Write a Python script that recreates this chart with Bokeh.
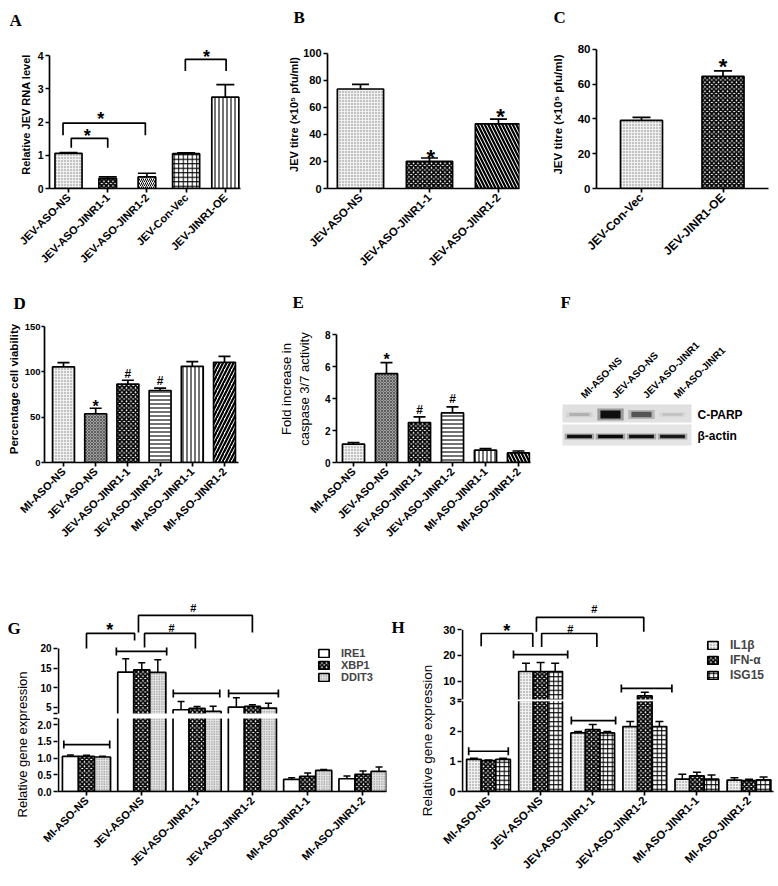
import math
from bokeh.plotting import figure
from bokeh.models import Range1d, FixedTicker, Legend, LegendItem
from bokeh.layouts import row, column
from bokeh.core.properties import value
from bokeh.embed import file_html
from bokeh.resources import INLINE

# ======================= DATA =======================
a_cats = ["JEV-ASO-NS", "JEV-ASO-JINR1-1", "JEV-ASO-JINR1-2", "JEV-Con-Vec", "JEV-JINR1-OE"]
a_vals = [1.06, 0.30, 0.35, 1.05, 2.75]
a_errs = [0.02, 0.05, 0.11, 0.02, 0.38]

b_cats = ["JEV-ASO-NS", "JEV-ASO-JINR1-1", "JEV-ASO-JINR1-2"]
b_vals = [73.7, 20.1, 47.9]
b_errs = [3.4, 2.5, 3.5]

c_cats = ["JEV-Con-Vec", "JEV-JINR1-OE"]
c_vals = [39.1, 64.4]
c_errs = [1.8, 3.1]

d_cats = ["MI-ASO-NS", "JEV-ASO-NS", "JEV-ASO-JINR1-1", "JEV-ASO-JINR1-2", "MI-ASO-JINR1-1", "MI-ASO-JINR1-2"]
d_vals = [105.5, 53.8, 86.6, 79.5, 106.2, 110.6]
d_errs = [4.8, 6.1, 4.2, 2.7, 5.1, 6.5]

e_cats = ["MI-ASO-NS", "JEV-ASO-NS", "JEV-ASO-JINR1-1", "JEV-ASO-JINR1-2", "MI-ASO-JINR1-1", "MI-ASO-JINR1-2"]
e_vals = [1.15, 5.56, 2.50, 3.10, 0.77, 0.60]
e_errs = [0.10, 0.69, 0.35, 0.38, 0.10, 0.12]

f_lanes = ["MI-ASO-NS", "JEV-ASO-NS", "JEV-ASO-JINR1", "MI-ASO-JINR1"]
f_cparp = [0.18, 1.0, 0.6, 0.12]
f_actin = [0.9, 0.95, 0.9, 0.85]

g_cats = ["MI-ASO-NS", "JEV-ASO-NS", "JEV-ASO-JINR1-1", "JEV-ASO-JINR1-2", "MI-ASO-JINR1-1", "MI-ASO-JINR1-2"]
g_series = ["IRE1", "XBP1", "DDIT3"]
g_ire1 = [1.05, 13.97, 4.41, 5.08, 0.36, 0.38]
g_ire1_err = [0.04, 3.41, 2.11, 2.38, 0.05, 0.08]
g_xbp1 = [1.05, 14.58, 4.75, 5.25, 0.45, 0.51]
g_xbp1_err = [0.03, 1.78, 0.50, 0.43, 0.10, 0.10]
g_ddit3 = [1.03, 13.90, 3.98, 4.83, 0.63, 0.60]
g_ddit3_err = [0.02, 3.20, 1.35, 1.27, 0.03, 0.13]
g_lo_ticks = [0, 0.5, 1.0, 1.5, 2.0]
g_lo_labels = ["0.0", "0.5", "1.0", "1.5", "2.0"]
g_up_ticks = [5, 10, 15, 20]

h_cats = ["MI-ASO-NS", "JEV-ASO-NS", "JEV-ASO-JINR1-1", "JEV-ASO-JINR1-2", "MI-ASO-JINR1-1", "MI-ASO-JINR1-2"]
h_series = ["IL1\u03b2", "IFN-\u03b1", "ISG15"]
h_il1b = [1.07, 13.7, 1.95, 2.16, 0.41, 0.38]
h_il1b_err = [0.04, 3.2, 0.05, 0.17, 0.16, 0.08]
h_ifna = [1.03, 13.7, 2.06, 4.25, 0.52, 0.36]
h_ifna_err = [0.02, 3.5, 0.17, 1.35, 0.12, 0.05]
h_isg15 = [1.07, 13.7, 1.95, 2.16, 0.41, 0.39]
h_isg15_err = [0.04, 3.2, 0.05, 0.17, 0.14, 0.09]
h_lo_ticks = [0, 1, 2, 3]
h_lo_labels = ["0", "1", "2", "3"]
h_up_ticks = [10, 20, 30]

# significance annotations: brackets (x0, x1, y_left, y_top, y_right), marks (symbol, x, y), spans (x0, x1, y)
a_brackets = [(0.07, 1.0, 1.23, 1.51, 1.23), (-0.14, 1.96, 1.60, 1.97, 1.60), (2.98, 4.02, 3.54, 3.89, 3.54)]
a_marks = [("*", 0.48, 1.69), ("*", 0.82, 2.20), ("*", 3.52, 4.09)]
b_marks = [("*", 1.02, 26.7), ("*", 2.03, 56.8)]
c_marks = [("*", 1.0, 72.9)]
d_marks = [("*", 1, 65.8), ("#", 2, 97.3), ("#", 3, 90.4)]
e_marks = [("*", 1, 6.69), ("#", 2, 3.31), ("#", 3, 3.94)]
g_brackets = [(0.0, 0.87, 20.0, 23.81, 22.03), (1.05, 1.97, 20.25, 23.81, 20.0), (0.94, 3.0, 24.07, 28.39, 24.07)]
g_marks = [("*", 0.42, 25.85), ("#", 1.54, 25.3), ("#", 1.93, 30.2)]
g_spans = [(-0.41, 0.42, 1.40), (0.54, 1.45, 19.24), (1.57, 2.41, 8.56), (2.57, 3.47, 8.56)]
h_brackets = [(-0.14, 0.85, 23.5, 28.5, 23.2), (1.02, 2.08, 23.2, 28.5, 23.2), (0.92, 2.98, 29.2, 34.8, 29.2)]
h_marks = [("*", 0.35, 31.2), ("#", 1.57, 30.4), ("#", 2.03, 37.9)]
h_spans = [(-0.38, 0.38, 1.34), (0.48, 1.52, 20.3), (1.59, 2.44, 2.36), (2.55, 3.52, 7.1)]

# ======================= STYLE =======================
FONT = "Liberation Sans"
SERIF = "Liberation Serif"
LW = 1.7

PAT = {
    "dots": dict(fill_color="#f0f0f0", hatch_pattern="dot", hatch_color="#808080", hatch_scale=3, hatch_weight=1.0),
    "dots_g": dict(fill_color="#e4e4e4", hatch_pattern="dot", hatch_color="#707070", hatch_scale=2.5, hatch_weight=1.0),
    "dark": dict(fill_color="#a0a0a0", hatch_pattern="diagonal_cross", hatch_color="#404040", hatch_scale=3, hatch_weight=0.7),
    "checker": dict(fill_color="white", hatch_pattern="diagonal_cross", hatch_color="black", hatch_scale=4.5, hatch_weight=1.8),
    "vlines": dict(fill_color="white", hatch_pattern="vertical_line", hatch_color="black", hatch_scale=4, hatch_weight=1.1),
    "hlines": dict(fill_color="white", hatch_pattern="horizontal_line", hatch_color="black", hatch_scale=4, hatch_weight=1.1),
    "rdiag_fine": dict(fill_color="white", hatch_pattern="right_diagonal_line", hatch_color="black", hatch_scale=4, hatch_weight=1.0),
    "rdiag": dict(fill_color="white", hatch_pattern="right_diagonal_line", hatch_color="black", hatch_scale=7, hatch_weight=2.2),
    "ldiag": dict(fill_color="white", hatch_pattern="left_diagonal_line", hatch_color="black", hatch_scale=7, hatch_weight=2.2),
    "grid": dict(fill_color="white", hatch_pattern="cross", hatch_color="black", hatch_scale=4.5, hatch_weight=1.0),
    "white": dict(fill_color="white"),
}
a_pats = ["dots", "checker", "rdiag_fine", "grid", "vlines"]
a_widths = [0.69, 0.45, 0.45, 0.69, 0.69]
b_pats = ["dots", "checker", "ldiag"]
c_pats = ["dots", "checker"]
d_pats = ["dots", "dark", "checker", "hlines", "vlines", "rdiag"]
e_pats = ["dots", "dark", "checker", "hlines", "vlines", "ldiag"]
g_pats = ["white", "checker", "dots_g"]
h_pats = ["dots", "checker", "grid"]


def make_fig(w, h, xr, yr, mb):
    l, r, t, b = mb
    p = figure(width=w, height=h, x_range=Range1d(*xr), y_range=Range1d(*yr),
               output_backend="svg", toolbar_location=None,
               min_border_left=l, min_border_right=r, min_border_top=t, min_border_bottom=b)
    p.outline_line_color = None
    p.xgrid.visible = False
    p.ygrid.visible = False
    p.background_fill_color = "white"
    p.border_fill_color = "white"
    return p


def plain_fig(w, h, xr, yr):
    p = figure(frame_width=w, frame_height=h, x_range=Range1d(*xr), y_range=Range1d(*yr),
               output_backend="svg", toolbar_location=None, x_axis_location=None, y_axis_location=None,
               min_border_left=0, min_border_right=0, min_border_top=0, min_border_bottom=0)
    p.outline_line_color = None
    p.xgrid.visible = False
    p.ygrid.visible = False
    return p


def cfg_y(p, ticks, bounds, label=None, label_size="11px", label_style="bold", standoff=3,
          tick_size="10.5px", tick_out=4, overrides=None):
    ax = p.yaxis[0]
    ax.ticker = FixedTicker(ticks=ticks)
    if bounds is not None:
        ax.bounds = bounds
    ax.axis_line_width = LW
    ax.axis_line_color = "black"
    ax.major_tick_line_width = LW
    ax.major_tick_line_color = "black"
    ax.major_tick_out = tick_out
    ax.major_tick_in = 0
    ax.minor_tick_line_color = None
    ax.major_label_standoff = 2
    ax.major_label_text_font = FONT
    ax.major_label_text_font_style = "bold"
    ax.major_label_text_font_size = tick_size
    ax.major_label_text_color = "black"
    if overrides:
        ax.major_label_overrides = overrides
    if label:
        ax.axis_label = label
        ax.axis_label_text_font = FONT
        ax.axis_label_text_font_style = label_style
        ax.axis_label_text_font_size = label_size
        ax.axis_label_text_color = "black"
        ax.axis_label_standoff = standoff


def cfg_x(p, labels, size="11px"):
    ax = p.xaxis[0]
    ax.ticker = FixedTicker(ticks=list(range(len(labels))))
    ax.major_label_overrides = {i: s for i, s in enumerate(labels)}
    ax.major_label_orientation = math.pi / 4
    ax.axis_line_width = LW
    ax.axis_line_color = "black"
    ax.major_tick_line_width = LW
    ax.major_tick_line_color = "black"
    ax.major_tick_out = 4
    ax.major_tick_in = 0
    ax.minor_tick_line_color = None
    ax.major_label_standoff = 3
    ax.major_label_text_font = FONT
    ax.major_label_text_font_style = "bold"
    ax.major_label_text_font_size = size
    ax.major_label_text_color = "black"


def draw_bars(p, vals, errs, pats, width, cap, widths=None):
    xs = list(range(len(vals)))
    for i, (x, v, pat) in enumerate(zip(xs, vals, pats)):
        wd = widths[i] if widths else width
        p.vbar(x=[x], top=[v], bottom=0, width=wd, line_color="black", line_width=LW, **PAT[pat])
    ups = [v + e for v, e in zip(vals, errs)]
    p.segment(x0=xs, y0=vals, x1=xs, y1=ups, line_color="black", line_width=LW)
    p.scatter(x=xs, y=ups, marker="dash", size=cap, line_color="black", line_width=LW)


def draw_marks(p, marks, star, hsh, ppu, tf=lambda v: v):
    for sym, x, y in marks:
        size = star if sym == "*" else hsh
        yy = tf(y) - (0.23 * size / ppu if sym == "*" else 0)
        p.text(x=[x], y=[yy], text=[sym], text_font=value(FONT), text_font_style="bold",
               text_font_size=f"{size}px", text_align="center", text_baseline="middle", text_color="black")


def draw_brackets(p, br, tf=lambda v: v):
    p.multi_line(xs=[[b[0], b[0], b[1], b[1]] for b in br],
                 ys=[[tf(b[2]), tf(b[3]), tf(b[3]), tf(b[4])] for b in br],
                 line_color="black", line_width=LW)


# ======================= STRIPS WITH PANEL LETTERS =======================
def strip(y0, h, letters):
    p = plain_fig(778, h, (0, 778), (0, h))
    p.text(x=[l[1] for l in letters], y=[y0 + h - l[2] for l in letters], text=[l[0] for l in letters],
           text_font=value(SERIF), text_font_style="bold", text_font_size="17px",
           text_align="left", text_baseline="alphabetic", text_color="black")
    return p

strip1 = strip(0, 30, [("A", 9, 20), ("B", 293, 17), ("C", 553, 17)])
strip2 = strip(285, 28, [("D", 13, 303), ("E", 292, 302), ("F", 560, 302)])

# ======================= PANEL A =======================
pA = make_fig(260, 255, (-0.485, 4.387), (0, 4.457), (49, 20, 3, 96))
draw_bars(pA, a_vals, a_errs, a_pats, 0.69, 18, widths=a_widths)
draw_brackets(pA, a_brackets)
draw_marks(pA, a_marks, 18, 12, 35.0)
cfg_y(pA, [0, 1, 2, 3, 4], (0, 4), "Relative JEV RNA level", "11px", "bold", 3, "10.5px")
cfg_x(pA, a_cats, "11px")

# ======================= PANEL B =======================
pB = make_fig(260, 255, (-0.478, 2.305), (0, 109.6), (67, 1, 10, 96))
draw_bars(pB, b_vals, b_errs, b_pats, 0.67, 17)
draw_marks(pB, b_marks, 22, 12, 1.36)
cfg_y(pB, [0, 20, 40, 60, 80, 100], (0, 100), "JEV titre (\u00d710\u2075 pfu/ml)", "11px", "bold", 0, "11px")
cfg_x(pB, b_cats, "11.5px")

# ======================= PANEL C =======================
pC = make_fig(258, 255, (-0.552, 1.558), (0, 85), (76, 10, 5, 97))
draw_bars(pC, c_vals, c_errs, c_pats, 0.515, 18)
draw_marks(pC, c_marks, 22, 12, 1.8)
cfg_y(pC, [0, 20, 40, 60, 80], (0, 80), "JEV titre (\u00d710\u2075 pfu/ml)", "11.5px", "bold", 11, "11.5px")
cfg_x(pC, c_cats, "12px")

# ======================= PANEL D =======================
pD = make_fig(260, 257, (-0.59, 5.435), (0, 162.3), (44, 22, 2, 97))
draw_bars(pD, d_vals, d_errs, d_pats, 0.68, 12)
draw_marks(pD, d_marks, 16, 12, 0.9733)
cfg_y(pD, [0, 50, 100, 150], (0, 150), "Percentage cell viability", "11.5px", "bold", 2, "9.5px", tick_out=3)
pD.yaxis[0].major_label_standoff = 1
cfg_x(pD, d_cats, "11px")

# ======================= PANEL E =======================
pE = make_fig(280, 257, (-0.515, 5.364), (0, 9.19), (76, 10, 2, 108))
draw_bars(pE, e_vals, e_errs, e_pats, 0.67, 12)
draw_marks(pE, e_marks, 16, 12, 16.0)
cfg_y(pE, [0, 2, 4, 6, 8], (0, 8), "Fold increase in\ncaspase 3/7 activity", "13px", "normal", 10, "10px")
cfg_x(pE, e_cats, "11px")

# ======================= PANEL F (blot) =======================
F_X0, F_Y0, F_W, F_H = 540, 313, 238, 257
LANE0, LANE_DX = 579, 31.0
def fx(page_x):
    return (page_x - LANE0) / LANE_DX
def fy(page_y):
    return F_Y0 + F_H - page_y
pF = plain_fig(F_W, F_H, (fx(F_X0), fx(F_X0 + F_W)), (0, F_H))
lanes = list(range(len(f_lanes)))
pF.rect(x=[(fx(562) + fx(691)) / 2] * 2, y=[fy(411), fy(432.5)], width=fx(691) - fx(562), height=[18, 21],
        fill_color=["#e0e0e0", "#e4e4e4"], line_color=None)
pF.rect(x=lanes, y=[fy(412)] * 4, width=0.85, height=[4 + 8 * c for c in f_cparp],
        fill_color="black", fill_alpha=[0.3 * c for c in f_cparp], line_color=None)
pF.rect(x=lanes, y=[fy(412)] * 4, width=0.65, height=[2 + 6 * c for c in f_cparp],
        fill_color="black", fill_alpha=[0.9 * c for c in f_cparp], line_color=None)
pF.rect(x=lanes, y=[fy(434)] * 4, width=0.95, height=6,
        fill_color="black", fill_alpha=[0.3 * a for a in f_actin], line_color=None)
pF.rect(x=lanes, y=[fy(434)] * 4, width=0.8, height=3.5,
        fill_color="black", fill_alpha=f_actin, line_color=None)
pF.text(x=lanes, y=[fy(394)] * 4, text=f_lanes, angle=math.pi / 4, x_offset=3,
        text_font=value(FONT), text_font_style="bold", text_font_size="10px",
        text_align="left", text_baseline="alphabetic", text_color="black")
pF.text(x=[fx(697)] * 2, y=[fy(412), fy(433)], text=["C-PARP", "\u03b2-actin"],
        text_font=value(FONT), text_font_style="bold", text_font_size="12px",
        text_align="left", text_baseline="middle", text_color="black")

# ======================= PANELS G / H (broken y axis) =======================
ROW3_Y0, ROW3_H = 570, 314

def lab_fig(x0, w, letter_txt, lx, ly, cx, cy, size):
    p = plain_fig(w, ROW3_H, (0, w), (0, ROW3_H))
    p.text(x=[lx - x0], y=[ROW3_Y0 + ROW3_H - ly], text=[letter_txt], text_font=value(SERIF),
           text_font_style="bold", text_font_size="17px", text_align="left", text_baseline="alphabetic",
           text_color="black")
    p.text(x=[cx - x0], y=[ROW3_Y0 + ROW3_H - cy], text=["Relative gene expression"], angle=math.pi / 2,
           text_font=value(FONT), text_font_size=size, text_align="center", text_baseline="middle",
           text_color="black")
    return p


def make_break(lo_top, gap, up_bottom, k):
    d0 = lo_top + gap
    def tf(v):
        return v if v <= lo_top else d0 + (v - up_bottom) * k
    return tf, d0


def broken_panel(w, xr, ytop, mb, series_vals, series_errs, pats, names, offsets, width, cap, tf, lo_top, d0,
                 lo_ticks, lo_labels, up_ticks, brackets, spans, marks, ppu, cats, tick_size, cat_size,
                 leg_loc, leg_size, leg_spacing):
    p = make_fig(w, ROW3_H, xr, (0, ytop), mb)
    rends = []
    for vals, pat, off in zip(series_vals, pats, offsets):
        xs = [i + off for i in range(len(vals))]
        rends.append(p.vbar(x=xs, top=[tf(v) for v in vals], bottom=0, width=width,
                            line_color="black", line_width=LW, **PAT[pat]))
    # white gap at the axis break
    p.quad(left=[xr[0]], right=[xr[1]], bottom=[lo_top], top=[d0], fill_color="white", line_color=None)
    for vals, errs, off in zip(series_vals, series_errs, offsets):
        xs = [i + off for i in range(len(vals))]
        ups = [tf(v + e) for v, e in zip(vals, errs)]
        p.segment(x0=xs, y0=[tf(v) for v in vals], x1=xs, y1=ups, line_color="black", line_width=1.5)
        p.scatter(x=xs, y=ups, marker="dash", size=cap, line_color="black", line_width=1.5)
    draw_brackets(p, brackets, tf)
    p.segment(x0=[s[0] for s in spans], y0=[tf(s[2]) for s in spans],
              x1=[s[1] for s in spans], y1=[tf(s[2]) for s in spans], line_color="black", line_width=LW)
    p.scatter(x=[s[0] for s in spans] + [s[1] for s in spans], y=[tf(s[2]) for s in spans] * 2,
              marker="dash", angle=math.pi / 2, size=8, line_color="black", line_width=LW)
    draw_marks(p, marks, 18, 11, ppu, tf)
    # broken y axis line: two segments just inside the frame edge
    frame_w = w - mb[0] - mb[1]
    x_ax = xr[0] + 1.0 * (xr[1] - xr[0]) / frame_w
    p.segment(x0=[x_ax, x_ax], y0=[0, d0], x1=[x_ax, x_ax], y1=[lo_top, tf(up_ticks[-1])],
              line_color="black", line_width=LW)
    tick_pos = [tf(t) for t in lo_ticks] + [tf(t) for t in up_ticks]
    tick_lab = lo_labels + [str(t) for t in up_ticks]
    extra = [v for v in (lo_top, d0) if all(abs(v - t) > 1e-6 for t in tick_pos)]
    tick_pos += extra
    tick_lab += [""] * len(extra)
    cfg_y(p, tick_pos, (0, tf(up_ticks[-1])), None, tick_size=tick_size,
          overrides={pos: lab for pos, lab in zip(tick_pos, tick_lab)})
    p.yaxis[0].axis_line_color = None
    cfg_x(p, cats, cat_size)
    p.add_layout(Legend(items=[LegendItem(label=value(n), renderers=[r]) for n, r in zip(names, rends)],
                        location=leg_loc, padding=0, margin=0, spacing=leg_spacing, glyph_width=13,
                        glyph_height=10, label_height=10, label_standoff=11, border_line_color=None,
                        background_fill_alpha=0, label_text_font=FONT, label_text_font_style="bold",
                        label_text_font_size=leg_size))
    return p


# G: lower 0..2.18 at 33.5 px/unit, 5 px gap, upper from 3.47 at 3.933 px/unit
g_tf, g_d0 = make_break(2.18, 5 / 33.5, 3.47, 3.933 / 33.5)
gl = lab_fig(0, 30, "G", 7, 598, 22, 714, "13px")
pG = broken_panel(358, (-0.524, 5.425), 191 / 33.5, (27, 2, 30, 93),
                  [g_ire1, g_xbp1, g_ddit3], [g_ire1_err, g_xbp1_err, g_ddit3_err], g_pats, g_series,
                  [-0.29, 0.0, 0.29], 0.29, 7, g_tf, 2.18, g_d0, g_lo_ticks, g_lo_labels, g_up_ticks,
                  g_brackets, g_spans, g_marks, 33.5, g_cats, "10px", "11px", (260, 108), "11px", 0)

# H: lower 0..3 at 31 px/unit, 2 px gap, upper from 2.85 at 2.65 px/unit
h_tf, h_d0 = make_break(3.0, 2 / 31.0, 2.85, 2.65 / 31.0)
hl = lab_fig(388, 50, "H", 391, 597, 427, 710, "13.5px")
pH = broken_panel(340, (-0.518, 5.47), 197 / 31.0, (23, 5, 26, 91),
                  [h_il1b, h_ifna, h_isg15], [h_il1b_err, h_ifna_err, h_isg15_err], h_pats, h_series,
                  [-0.28, 0.0, 0.28], 0.28, 8, h_tf, 3.0, h_d0, h_lo_ticks, h_lo_labels, h_up_ticks,
                  h_brackets, h_spans, h_marks, 31.0, h_cats, "11px", "11.5px", (245, 109), "12px", 1)

layout = column(
    strip1,
    row(pA, pB, pC),
    strip2,
    row(pD, pE, pF),
    row(gl, pG, hl, pH),
)

open("out.html", "w").write(file_html(layout, INLINE))
